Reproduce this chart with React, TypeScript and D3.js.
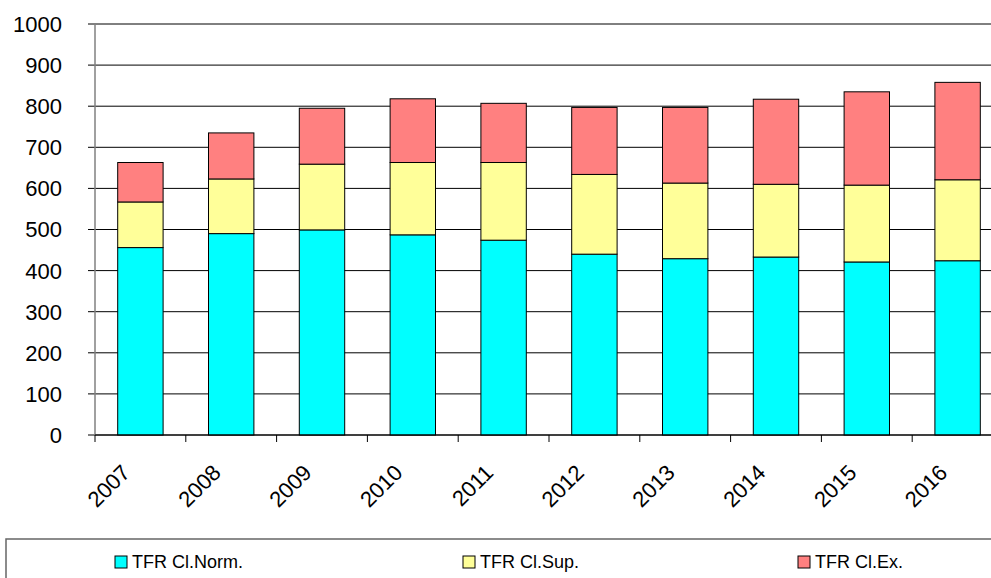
import React from "react";
import * as d3 from "d3";

const years = ["2007", "2008", "2009", "2010", "2011", "2012", "2013", "2014", "2015", "2016"];
const normValues = [456, 490, 499, 487, 474, 440, 429, 433, 421, 424];
const supValues = [111, 133, 160, 176, 189, 194, 184, 177, 187, 197];
const exValues = [96, 112, 136, 155, 144, 163, 184, 207, 227, 237];
const seriesNames = ["TFR Cl.Norm.", "TFR Cl.Sup.", "TFR Cl.Ex."];
const seriesColors = ["#00FFFF", "#FFFF99", "#FF8080"];
const yTicks = [0, 100, 200, 300, 400, 500, 600, 700, 800, 900, 1000];

const W = 991;
const H = 578;
const left = 95;
const top = 24;
const bottom = 435;
const band = 90.8;
const font = "'Liberation Sans', Arial, sans-serif";

export default function App() {
  const x = d3
    .scaleBand<string>()
    .domain(years)
    .range([left, left + band * years.length])
    .padding(0);
  const y = d3.scaleLinear().domain([0, 1000]).range([bottom, top]);

  const rows = years.map((yr, i) => ({
    year: yr,
    norm: normValues[i],
    sup: supValues[i],
    ex: exValues[i],
  }));
  const stack = d3.stack<any>().keys(["norm", "sup", "ex"]);
  const layers = stack(rows);

  const bw = x.bandwidth();
  const legendX = [115, 463, 798];

  return (
    <div style={{ position: "fixed", left: 0, top: 0 }}>
      <svg width={W} height={H} style={{ display: "block", background: "#fff" }}>
        {/* gridlines */}
        {yTicks.map((t) => (
          <line key={"g" + t} x1={left - 7} x2={W} y1={y(t)} y2={y(t)} stroke="#000" strokeWidth={1} />
        ))}
        {/* y labels */}
        {yTicks.map((t) => (
          <text
            key={"yl" + t}
            x={62}
            y={y(t)}
            dy="0.36em"
            textAnchor="end"
            fontFamily={font}
            fontSize={22}
            fill="#000"
          >
            {t}
          </text>
        ))}
        {/* bars */}
        {layers.map((layer, li) =>
          layer.map((d: any, i: number) => (
            <rect
              key={li + "-" + i}
              x={(x(years[i]) as number) + bw * 0.25}
              width={bw * 0.5}
              y={y(d[1])}
              height={y(d[0]) - y(d[1])}
              fill={seriesColors[li]}
              stroke="#000"
              strokeWidth={1}
            />
          ))
        )}
        {/* y axis */}
        <line x1={left} x2={left} y1={top} y2={bottom} stroke="#808080" strokeWidth={1.5} />
        {/* x axis */}
        <line x1={left} x2={W} y1={bottom} y2={bottom} stroke="#000" strokeWidth={1} />
        {years.map((yr) => (
          <line
            key={"xt" + yr}
            x1={x(yr) as number}
            x2={x(yr) as number}
            y1={bottom}
            y2={bottom + 7}
            stroke="#000"
            strokeWidth={1}
          />
        ))}
        {/* x labels */}
        {years.map((yr) => {
          const cx = (x(yr) as number) + bw / 2 - 9;
          const cy = 474;
          return (
            <text
              key={"xl" + yr}
              x={cx}
              y={cy}
              textAnchor="end"
              transform={`rotate(-45 ${cx} ${cy})`}
              fontFamily={font}
              fontSize={22}
              fill="#000"
            >
              {yr}
            </text>
          );
        })}
        {/* legend */}
        <rect x={6} y={539} width={W + 10} height={60} fill="none" stroke="#666" strokeWidth={1.5} />
        {seriesNames.map((n, i) => (
          <g key={"lg" + n}>
            <rect x={legendX[i]} y={556} width={12} height={12} fill={seriesColors[i]} stroke="#000" strokeWidth={1} />
            <text x={legendX[i] + 17} y={568} fontFamily={font} fontSize={18} fill="#000">
              {n}
            </text>
          </g>
        ))}
      </svg>
    </div>
  );
}
